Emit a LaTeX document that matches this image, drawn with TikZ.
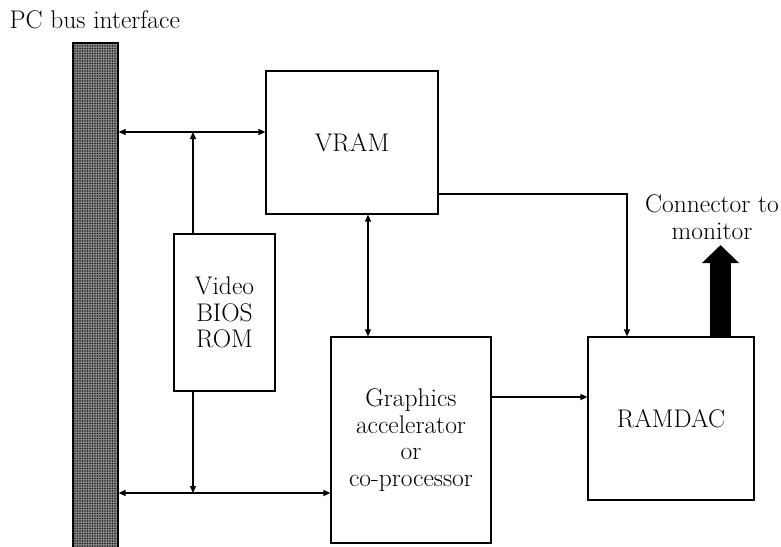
\documentclass[tikz,border=0pt]{standalone}
\usepackage{tikz}
\usetikzlibrary{arrows.meta,patterns.meta}

\begin{document}
\begin{tikzpicture}[x=1pt,y=-1pt,line width=1.2pt,>={Triangle[length=7pt,width=6pt]},
  every node/.style={font=\fontsize{25.5}{26.7}\selectfont,align=center},
  box/.style={draw,inner sep=0pt}]
\useasboundingbox (0,0) rectangle (781,546);
\node[anchor=west,inner sep=0pt] (buslbl) at (9,20) {PC bus interface};
\node[draw,inner sep=0pt,minimum width=45pt,minimum height=505pt,preaction={fill=black!45},pattern={Dots[distance=2.5pt,radius=0.8pt]},pattern color=black!90] (bus) at (95.5,295.5) {};
\node[box,minimum width=172pt,minimum height=143pt] (vram) at (352,142.5) {VRAM};
\node[box,minimum width=101pt,minimum height=157pt] (bios) at (224.5,312.5) {Video\\BIOS\\ROM};
\node[box,minimum width=160pt,minimum height=206pt] (gfx) at (411,440) {Graphics\\accelerator\\or\\co-processor};
\node[box,minimum width=166pt,minimum height=163pt] (ramdac) at (671,418.5) {RAMDAC};
\node (conn) at (712,217) {Connector to\\monitor};
\coordinate (jtop) at (193,132);
\coordinate (jbot) at (193,493);
\coordinate (mon) at (720.5,245);
\draw[<->] (bus.east |- jtop) -- (vram.west |- jtop);
\draw[->] (bios.north -| jtop) -- (jtop);
\draw[->] (bios.south -| jbot) -- (jbot);
\draw[<->] (bus.east |- jbot) -- (gfx.west |- jbot);
\draw[<->] (vram.south -| 368,0) -- (gfx.north -| 368,0);
\draw[->] (vram.east |- 0,194) -| (ramdac.north -| 627,0);
\draw[->] (gfx.east |- 0,397) -- (ramdac.west |- 0,397);
\draw[line width=21pt,-{Triangle[length=18pt,width=36pt]}] (ramdac.north -| mon) -- (mon);
\end{tikzpicture}
\end{document}
